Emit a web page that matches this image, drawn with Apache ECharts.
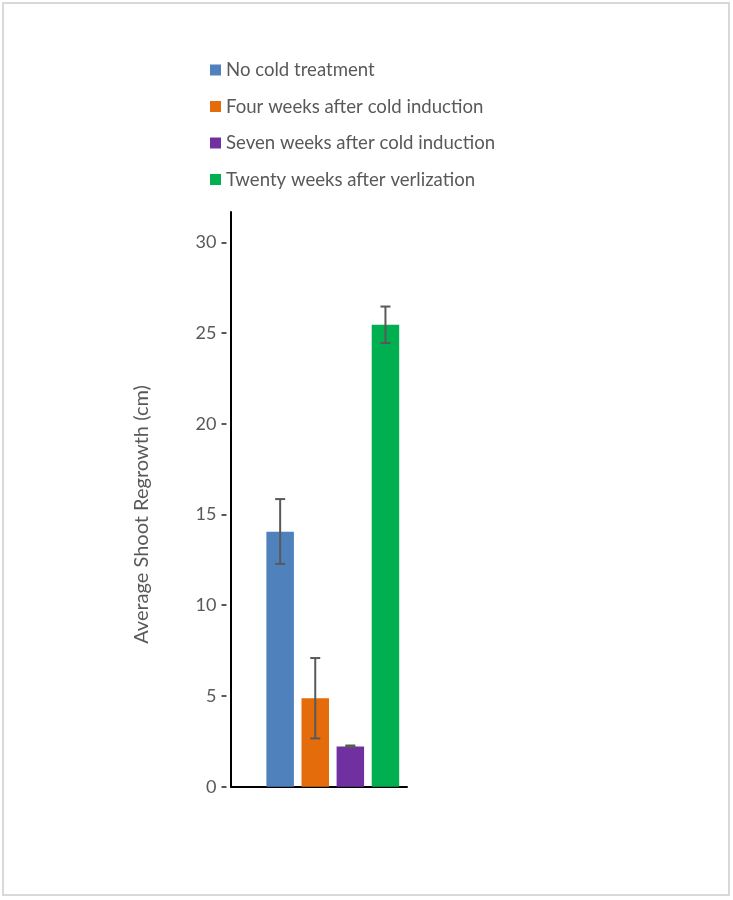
<!DOCTYPE html>
<html>
<head>
<meta charset="utf-8">
<script src="https://cdn.jsdelivr.net/npm/echarts@6/dist/echarts.min.js"></script>
<style>
html,body{margin:0;padding:0;background:#fff;}
#chart{position:absolute;left:0;top:0;width:733px;height:900px;}
#frame{position:absolute;left:2px;top:2px;width:728px;height:894px;box-sizing:border-box;border:2px solid #d9d9d9;pointer-events:none;}
</style>
</head>
<body>
<div id="chart"></div>
<div id="frame"></div>
<script>
const seriesNames = ['No cold treatment','Four weeks after cold induction','Seven weeks after cold induction','Twenty weeks after verlization'];
const means = [14.05, 4.87, 2.22, 25.45];
const errLow = [12.28, 2.66, 2.19, 24.45];
const errHigh = [15.85, 7.09, 2.27, 26.46];
const colors = ['#4F81BD','#E46C0A','#7030A0','#00B050'];
const slots = ['', 'A', 'B', 'C', 'D'];
const yMin = 0, yMax = 30, yStep = 5;
const yTitle = 'Average Shoot Regrowth (cm)';

const FONT = 'Lato';
const TXT = '#595959';

const barSeries = seriesNames.map((name, i) => ({
  name: name,
  type: 'bar',
  xAxisIndex: 1,
  yAxisIndex: 1,
  barWidth: 27.5,
  barGap: '-100%',
  itemStyle: {color: colors[i]},
  data: slots.map((s, k) => (k === i + 1 ? means[i] : '-'))
}));

const errData = means.map((m, i) => [i + 1, errLow[i], errHigh[i]]);

const option = {
  animation: false,
  backgroundColor: '#fff',
  textStyle: {fontFamily: FONT},
  legend: {
    orient: 'vertical',
    left: 205,
    top: 55,
    itemWidth: 11,
    itemHeight: 11,
    itemGap: 16.5,
    icon: 'rect',
    data: seriesNames,
    textStyle: {color: TXT, fontSize: 18.6, fontFamily: FONT, lineHeight: 20}
  },
  grid: [
    {left: 231, top: 212, width: 176, height: 574.7},
    {left: 227.5, top: 242.3, width: 175.5, height: 544.4}
  ],
  xAxis: [
    {gridIndex: 0, type: 'category', data: [''],
     axisLine: {show: true, lineStyle: {color: '#000', width: 2}},
     axisTick: {show: false}, axisLabel: {show: false}},
    {gridIndex: 1, type: 'category', data: slots, show: false}
  ],
  yAxis: [
    {gridIndex: 0, type: 'value', min: 0, max: 1,
     axisLine: {show: true, lineStyle: {color: '#000', width: 2}},
     axisTick: {show: false}, axisLabel: {show: false}, splitLine: {show: false}},
    {gridIndex: 1, type: 'value', min: yMin, max: yMax, interval: yStep,
     offset: 1,
     axisLine: {show: false},
     axisTick: {show: true, length: 5, lineStyle: {color: TXT, width: 2}},
     axisLabel: {color: TXT, fontSize: 18, fontFamily: FONT, margin: 10},
     splitLine: {show: false},
     name: yTitle,
     nameLocation: 'middle',
     nameGap: 75,
     nameTextStyle: {color: TXT, fontSize: 20, fontFamily: FONT}}
  ],
  series: barSeries.concat([{
    type: 'custom',
    xAxisIndex: 1,
    yAxisIndex: 1,
    z: 10,
    silent: true,
    data: errData,
    renderItem: function (params, api) {
      const x = api.value(0);
      const lo = api.coord([x, api.value(1)]);
      const hi = api.coord([x, api.value(2)]);
      const hw = 5;
      const style = {stroke: TXT, lineWidth: 2};
      return {
        type: 'group',
        children: [
          {type: 'line', shape: {x1: lo[0], y1: lo[1], x2: hi[0], y2: hi[1]}, style: style},
          {type: 'line', shape: {x1: lo[0] - hw, y1: lo[1], x2: lo[0] + hw, y2: lo[1]}, style: style},
          {type: 'line', shape: {x1: hi[0] - hw, y1: hi[1], x2: hi[0] + hw, y2: hi[1]}, style: style}
        ]
      };
    }
  }])
};

const chart = echarts.init(document.getElementById('chart'), null, {renderer: 'canvas'});
chart.setOption(option);
</script>
</body>
</html>
